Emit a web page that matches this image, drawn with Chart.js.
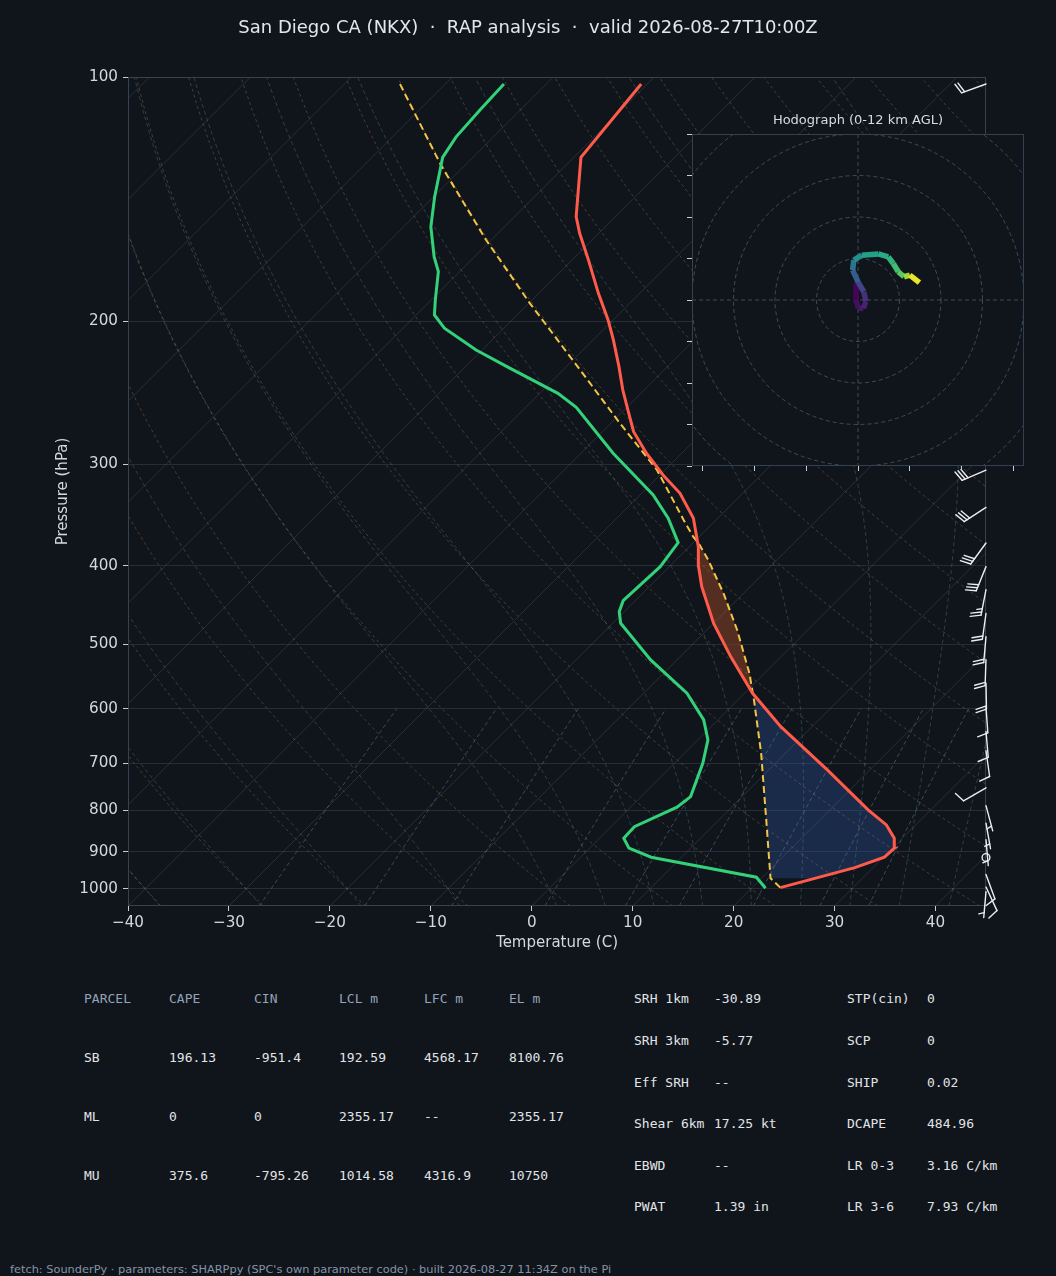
<!DOCTYPE html>
<html>
<head>
<meta charset="utf-8">
<title>Skew-T San Diego</title>
<script src="https://cdn.jsdelivr.net/npm/chart.js@4.4.1/dist/chart.umd.min.js"></script>
<style>
  html, body { margin:0; padding:0; background:#10151b; }
  body { width:1056px; height:1276px; position:relative; overflow:hidden; font-family:"DejaVu Sans", sans-serif; }
  .abs { position:absolute; white-space:pre; }
  #title { left:0; width:1056px; top:15px; text-align:center; color:#e3e7ec; font-size:18px; line-height:24px; }
  #skew { position:absolute; left:0; top:0; }
  #hodo { position:absolute; left:672px; top:100px; }
  #hodoTitle { left:692px; width:332px; top:112px; text-align:center; color:#d6dbe1; font-size:13px; line-height:16px; }
  .cell { font-family:"DejaVu Sans Mono", monospace; font-size:13px; line-height:16px; color:#e1e4e8; }
  .hdr { color:#93a3b8; }
  #footer { left:10px; top:1262px; font-size:11.35px; line-height:14px; color:#8693a5; }
</style>
</head>
<body>
<canvas id="skew" width="1056" height="960"></canvas>
<canvas id="hodo" width="372" height="380"></canvas>
<div id="title" class="abs">San Diego CA (NKX)  ·  RAP analysis  ·  valid 2026-08-27T10:00Z</div>
<div id="hodoTitle" class="abs">Hodograph (0-12 km AGL)</div>
<div id="table"></div>
<div id="footer" class="abs">fetch: SounderPy · parameters: SHARPpy (SPC's own parameter code) · built 2026-08-27 11:34Z on the Pi</div>
<script>
// ---------------- DATA ----------------
// Environmental temperature (surface -> top)
const T_P = [996.6, 941.6, 914.3, 891.2, 866.4, 834.3, 799.5, 713.8, 631.3, 574.3, 517.6, 470.9, 424.4, 400.0, 378.9, 349.6, 325.7, 309.2, 290.7, 273.5, 259.6, 243.0, 227.4, 210.8, 199.2, 184.7, 168.0, 155.8, 148.6, 125.6, 102.0];
const T_T = [22.8, 28.2, 30.1, 30.2, 29.2, 27.1, 23.8, 15.8, 6.9, 0.8, -5.0, -10.0, -14.8, -17.2, -19.1, -22.4, -26.2, -29.7, -33.5, -36.9, -39.2, -42.1, -44.8, -48.0, -50.5, -54.1, -58.4, -61.9, -63.9, -69.3, -70.6];
// Dewpoint
const TD_P = [998.4, 967.7, 914.3, 891.2, 866.4, 838.3, 793.4, 769.9, 700.4, 655.6, 619.4, 574.3, 522.5, 470.9, 455.6, 441.6, 401.0, 374.6, 349.6, 327.2, 290.7, 255.2, 245.3, 227.4, 216.9, 203.9, 196.4, 188.2, 173.7, 166.5, 152.9, 140.4, 125.6, 118.5, 109.8, 102.0];
const TD_T = [21.4, 19.4, 7.0, 3.9, 2.4, 2.3, 4.6, 4.9, 2.8, 1.0, -1.4, -5.7, -12.6, -19.2, -20.5, -21.2, -20.9, -21.5, -24.9, -28.7, -36.8, -45.0, -48.2, -55.9, -60.6, -65.9, -68.2, -69.6, -72.1, -74.0, -77.3, -79.9, -83.0, -83.7, -84.0, -84.2];
// Surface parcel path
const PCL_P = [996.6, 970.4, 822.5, 681.0, 585.3, 542.6, 479.9, 432.4, 393.5, 375.3, 368.3, 351.3, 304.8, 267.0, 229.6, 190.0, 158.8, 128.4, 102.0];
const PCL_T = [22.8, 20.9, 14.7, 7.6, 1.6, -1.5, -7.0, -12.0, -16.8, -19.4, -20.6, -23.2, -30.8, -39.1, -48.3, -59.9, -70.5, -82.4, -94.5];
// Shaded parcel-vs-environment layer (hPa)
const FILL_P = [970.4, 376.0];

// Wind barbs
const WIND_P   = [102, 130, 160, 190, 220, 250, 280, 305, 339, 375, 401, 428, 458, 489, 522, 558, 597, 640, 676, 751, 790, 830, 870, 915, 960, 995, 1008];
const WIND_DIR = [250, 250, 250, 250, 250, 250, 250, 247, 237, 216, 202, 191, 188, 185, 182, 179, 176, 175, 172, 240, 165, 170, 175, 0, 160, 155, 185];
const WIND_SPD = [20, 25, 25, 25, 25, 25, 25, 30, 30, 30, 30, 25, 20, 20, 20, 20, 10, 10, 10, 10, 5, 5, 5, 0, 10, 10, 5];

// Hodograph trace
const HODO_U = [-0.5, -0.5, 0.1, 1.3, 1.9, 1.4, 0.1, -1.3, -1.0, 0.9, 4.9, 7.3, 8.5, 9.7, 11.1, 12.5, 14.8];
const HODO_V = [3.6, 0.0, -2.0, -2.0, -0.4, 2.0, 4.2, 7.2, 9.6, 10.8, 11.1, 10.4, 8.8, 6.8, 5.6, 6.0, 4.2];
const HODO_H = [0, 0.3, 0.6, 0.9, 1.3, 2.0, 3.0, 4.0, 5.3, 6.5, 7.2, 7.5, 8.0, 8.5, 9.3, 11.3, 12.0];
const HODO_RINGS = [10, 20, 30, 40, 50];
const HODO_XTICKS = [-37.5, -25, -12.5, 0, 12.5, 25, 37.5];
const HODO_YTICKS = [-40, -30, -20, -10, 0, 10, 20, 30, 40];

// Tick labels
const P_TICKS = [100, 200, 300, 400, 500, 600, 700, 800, 900, 1000];
const T_TICKS = [-40, -30, -20, -10, 0, 10, 20, 30, 40];

// Reference lines
const ISOTHERMS = [-120, -110, -100, -90, -80, -70, -60, -50, -40, -30, -20, -10, 0, 10, 20, 30, 40, 50];
const DRY_T0 = [-40, -30, -20, -10, 0, 10, 20, 30, 40, 50, 60, 70, 80, 90, 100, 110, 120, 130, 140, 150, 160, 170, 180, 190, 200];
const MOIST_T0 = [-40, -30, -20, -10, 0, 5, 10, 15, 20, 25, 30, 35, 40, 45];
const MIX_W = [0.4, 1, 2, 4, 7, 10, 16, 24, 32]; // g/kg

// Table
const PARCEL_HEAD = ['PARCEL', 'CAPE', 'CIN', 'LCL m', 'LFC m', 'EL m'];
const PARCEL_ROWS = [
  ['SB', '196.13', '-951.4', '192.59', '4568.17', '8100.76'],
  ['ML', '0', '0', '2355.17', '--', '2355.17'],
  ['MU', '375.6', '-795.26', '1014.58', '4316.9', '10750']
];
const PARAM_A = [['SRH 1km', '-30.89'], ['SRH 3km', '-5.77'], ['Eff SRH', '--'], ['Shear 6km', '17.25 kt'], ['EBWD', '--'], ['PWAT', '1.39 in']];
const PARAM_B = [['STP(cin)', '0'], ['SCP', '0'], ['SHIP', '0.02'], ['DCAPE', '484.96'], ['LR 0-3', '3.16 C/km'], ['LR 3-6', '7.93 C/km']];

// ---------------- HELPERS ----------------
const P_BOT = 1050, P_TOP = 100, SKEW = 34.93;
const skewX = (t, p) => t + SKEW * Math.log(P_BOT / p);
const profile = (P, T) => P.map((p, i) => ({x: skewX(T[i], p), y: p}));
const RD = 287.04749, CP = 1004.666, LV = 2.50084e6, EPS = 0.6219569;

function dTdP(p, T) {
  const tc = T - 273.15;
  const es = 6.112 * Math.exp(17.67 * tc / (tc + 243.5));
  const rs = EPS * es / (p - es);
  return (RD * T + LV * rs) / (CP + (LV * LV * rs * EPS) / (RD * T * T)) / p;
}
function rk4(p, T, h) {
  const k1 = dTdP(p, T), k2 = dTdP(p + h / 2, T + h * k1 / 2), k3 = dTdP(p + h / 2, T + h * k2 / 2), k4 = dTdP(p + h, T + h * k3);
  return T + h * (k1 + 2 * k2 + 2 * k3 + k4) / 6;
}
function moistLine(t0) {
  const down = []; let T = t0 + 273.15, p = 1000;
  while (p < P_BOT) { const h = Math.min(5, P_BOT - p); T = rk4(p, T, h); p += h; down.push({p, T}); }
  const up = [{p: 1000, T: t0 + 273.15}]; T = t0 + 273.15; p = 1000;
  while (p > P_TOP) { const h = -Math.min(5, p - P_TOP); T = rk4(p, T, h); p += h; up.push({p, T}); }
  return down.reverse().concat(up).map(o => ({x: skewX(o.T - 273.15, o.p), y: o.p}));
}
function dryLine(t0) {
  const pts = [];
  for (let p = P_BOT; p >= P_TOP; p -= 10) pts.push({x: skewX((t0 + 273.15) * Math.pow(p / 1000, RD / CP) - 273.15, p), y: p});
  return pts;
}
function mixLine(wg) {
  const w = wg / 1000, pts = [];
  for (let p = P_BOT; p >= 600; p -= 10) {
    const e = p * w / (EPS + w), l = Math.log(e / 6.112);
    pts.push({x: skewX(243.5 * l / (17.67 - l), p), y: p});
  }
  return pts;
}
function interpT(P, T, p) {
  for (let i = 0; i < P.length - 1; i++) {
    if ((P[i] - p) * (P[i + 1] - p) <= 0) {
      const f = (Math.log(p) - Math.log(P[i])) / (Math.log(P[i + 1]) - Math.log(P[i]));
      return T[i] + (T[i + 1] - T[i]) * f;
    }
  }
  return p > P[0] ? T[0] : T[T.length - 1];
}
const fmtT = v => (v < 0 ? '\u2212' + Math.abs(v) : String(v));

const VIRIDIS = ['#440154', '#482878', '#3e4989', '#31688e', '#26828e', '#1f9e89', '#35b779', '#6ece58', '#b5de2b', '#fde725'];
function hexRgb(h) { return [parseInt(h.slice(1, 3), 16), parseInt(h.slice(3, 5), 16), parseInt(h.slice(5, 7), 16)]; }
function viridis(t) {
  t = Math.max(0, Math.min(1, t)); const f = t * 9, i = Math.min(8, Math.floor(f)), k = f - i;
  const a = hexRgb(VIRIDIS[i]), b = hexRgb(VIRIDIS[i + 1]);
  return 'rgb(' + a.map((v, j) => Math.round(v + (b[j] - v) * k)).join(',') + ')';
}

// ---------------- SKEW-T CHART ----------------
const bg = (data, color, dash) => ({data, borderColor: color, borderWidth: 1, borderDash: dash, pointRadius: 0, fill: false, tension: 0, order: 10});
const datasets = [];
datasets.push({data: profile(T_P, T_T), borderColor: '#ff5b4b', borderWidth: 3, pointRadius: 0, fill: false, order: 0});
datasets.push({data: profile(TD_P, TD_T), borderColor: '#33d17a', borderWidth: 3, pointRadius: 0, fill: false, order: 1});
datasets.push({data: profile(PCL_P, PCL_T), borderColor: '#f4c542', borderWidth: 2, borderDash: [7, 4], pointRadius: 0, fill: false, order: 2});
ISOTHERMS.forEach(t => datasets.push(bg([{x: skewX(t, P_BOT), y: P_BOT}, {x: skewX(t, P_TOP), y: P_TOP}], 'rgba(140,152,170,0.2)', [])));
DRY_T0.forEach(t => datasets.push(bg(dryLine(t), 'rgba(170,125,75,0.38)', [3, 3])));
MOIST_T0.forEach(t => datasets.push(bg(moistLine(t), 'rgba(80,125,140,0.42)', [4, 3])));
MIX_W.forEach(w => datasets.push(bg(mixLine(w), 'rgba(100,130,160,0.5)', [4, 3])));

const fillPlugin = {
  id: 'parcelFill',
  beforeDatasetsDraw(chart) {
    const {ctx, chartArea: a, scales: {x, y}} = chart;
    const n = 240, l0 = Math.log(FILL_P[0]), l1 = Math.log(FILL_P[1]);
    const grid = [];
    for (let i = 0; i <= n; i++) { const p = Math.exp(l0 + (l1 - l0) * i / n); grid.push({p, tp: interpT(PCL_P, PCL_T, p), te: interpT(T_P, T_T, p)}); }
    const regions = []; let cur = null;
    for (let i = 0; i < grid.length; i++) {
      const g = grid[i], d = g.tp - g.te, s = d >= 0 ? 1 : -1;
      if (!cur) { cur = {s, pts: [g]}; continue; }
      if (s !== cur.s) {
        const pr = grid[i - 1], d0 = pr.tp - pr.te, f = d0 / (d0 - d);
        const pc = Math.exp(Math.log(pr.p) + (Math.log(g.p) - Math.log(pr.p)) * f);
        const tc = pr.tp + (g.tp - pr.tp) * f;
        const c = {p: pc, tp: tc, te: tc};
        cur.pts.push(c); regions.push(cur); cur = {s, pts: [c, g]};
      } else cur.pts.push(g);
    }
    if (cur) regions.push(cur);
    ctx.save();
    ctx.beginPath(); ctx.rect(a.left, a.top, a.right - a.left, a.bottom - a.top); ctx.clip();
    regions.forEach(r => {
      ctx.beginPath();
      r.pts.forEach((g, i) => { const px = x.getPixelForValue(skewX(g.tp, g.p)), py = y.getPixelForValue(g.p); i ? ctx.lineTo(px, py) : ctx.moveTo(px, py); });
      for (let i = r.pts.length - 1; i >= 0; i--) { const g = r.pts[i]; ctx.lineTo(x.getPixelForValue(skewX(g.te, g.p)), y.getPixelForValue(g.p)); }
      ctx.closePath();
      ctx.fillStyle = r.s > 0 ? 'rgba(150,72,40,0.5)' : 'rgba(50,90,170,0.32)';
      ctx.fill();
    });
    ctx.restore();
  }
};

function drawBarb(ctx, bx, by, dir, spd) {
  const L = 26;
  const r = Math.round(spd / 5) * 5;
  if (r < 5) { ctx.beginPath(); ctx.arc(bx, by, 0.15 * L, 0, 2 * Math.PI); ctx.stroke(); return; }
  const ang = dir * Math.PI / 180, dx = Math.sin(ang), dy = -Math.cos(ang), px = -dy, py = dx;
  const H = 0.4 * L, W = 0.25 * L, S = 0.125 * L;
  const flags = Math.floor(r / 50), full = Math.floor((r % 50) / 10), half = (r % 10) >= 5;
  ctx.beginPath(); ctx.moveTo(bx, by); ctx.lineTo(bx + dx * L, by + dy * L); ctx.stroke();
  let off = L;
  for (let i = 0; i < flags; i++) {
    const sx = bx + dx * off, sy = by + dy * off;
    ctx.beginPath(); ctx.moveTo(sx, sy); ctx.lineTo(sx + px * H - dx * W / 2, sy + py * H - dy * W / 2); ctx.lineTo(sx - dx * W, sy - dy * W); ctx.closePath(); ctx.fill();
    off -= W + S;
  }
  for (let i = 0; i < full; i++) {
    const sx = bx + dx * off, sy = by + dy * off;
    ctx.beginPath(); ctx.moveTo(sx, sy); ctx.lineTo(sx + px * H + dx * W / 2, sy + py * H + dy * W / 2); ctx.stroke();
    off -= S;
  }
  if (half) {
    if (off === L) off -= 1.5 * S;
    const sx = bx + dx * off, sy = by + dy * off;
    ctx.beginPath(); ctx.moveTo(sx, sy); ctx.lineTo(sx + px * H / 2 + dx * W / 4, sy + py * H / 2 + dy * W / 4); ctx.stroke();
  }
}

const overlayPlugin = {
  id: 'frameBarbs',
  afterDatasetsDraw(chart) {
    const {ctx, chartArea: a, scales: {y}} = chart;
    ctx.save();
    ctx.strokeStyle = '#374250'; ctx.lineWidth = 1;
    ctx.strokeRect(a.left + 0.5, a.top + 0.5, a.right - a.left - 1, a.bottom - a.top - 1);
    ctx.strokeStyle = '#e9edf1'; ctx.fillStyle = '#e9edf1'; ctx.lineWidth = 1.4; ctx.lineCap = 'round';
    WIND_P.forEach((p, i) => drawBarb(ctx, a.right, y.getPixelForValue(p), WIND_DIR[i], WIND_SPD[i]));
    ctx.restore();
  }
};

Chart.defaults.font.family = '"DejaVu Sans", sans-serif';
Chart.defaults.color = '#d3d8de';

new Chart(document.getElementById('skew'), {
  type: 'line',
  data: {datasets},
  options: {
    responsive: false, animation: false, devicePixelRatio: 1, events: [],
    layout: {padding: {top: 77, right: 70, bottom: 0, left: 0}},
    elements: {point: {radius: 0}},
    plugins: {legend: {display: false}, tooltip: {enabled: false}},
    scales: {
      x: {
        type: 'linear', min: -40, max: 45,
        afterBuildTicks: s => { s.ticks = T_TICKS.map(v => ({value: v})); },
        afterFit: s => { s.height = 54; },
        grid: {drawOnChartArea: false, drawTicks: true, tickLength: 5, tickColor: '#c9ced5'},
        border: {display: false},
        ticks: {color: '#d3d8de', font: {size: 15.2}, padding: 3, maxRotation: 0, autoSkip: false, callback: v => fmtT(v)},
        title: {display: true, text: 'Temperature (C)', color: '#d3d8de', font: {size: 15}, padding: {top: 0, bottom: 8}}
      },
      y: {
        type: 'logarithmic', min: 100, max: 1050, reverse: true,
        afterBuildTicks: s => { s.ticks = P_TICKS.map(v => ({value: v})); },
        afterFit: s => { s.width = 128; },
        grid: {color: 'rgba(130,145,165,0.2)', lineWidth: 1, drawTicks: true, tickLength: 5, tickColor: '#c9ced5'},
        border: {display: false},
        ticks: {color: '#d3d8de', font: {size: 15.2}, padding: 5, autoSkip: false, callback: v => String(v)},
        title: {display: true, text: 'Pressure (hPa)', color: '#d3d8de', font: {size: 15}, padding: {top: 54, bottom: 0}}
      }
    }
  },
  plugins: [fillPlugin, overlayPlugin]
});

// ---------------- HODOGRAPH ----------------
const hodoPlugin = {
  id: 'hodoDeco',
  beforeDraw(chart) {
    const {ctx, chartArea: a} = chart;
    ctx.save(); ctx.fillStyle = '#10151b'; ctx.fillRect(a.left, a.top, a.right - a.left, a.bottom - a.top); ctx.restore();
  },
  beforeDatasetsDraw(chart) {
    const {ctx, chartArea: a, scales: {x, y}} = chart;
    const cx = x.getPixelForValue(0), cy = y.getPixelForValue(0);
    ctx.save();
    ctx.beginPath(); ctx.rect(a.left, a.top, a.right - a.left, a.bottom - a.top); ctx.clip();
    ctx.strokeStyle = 'rgba(120,138,160,0.45)'; ctx.lineWidth = 1; ctx.setLineDash([4, 3]);
    HODO_RINGS.forEach(r => {
      ctx.beginPath(); ctx.ellipse(cx, cy, x.getPixelForValue(r) - cx, cy - y.getPixelForValue(r), 0, 0, 2 * Math.PI); ctx.stroke();
    });
    ctx.beginPath(); ctx.moveTo(a.left, cy); ctx.lineTo(a.right, cy); ctx.moveTo(cx, a.top); ctx.lineTo(cx, a.bottom); ctx.stroke();
    ctx.restore();
  },
  afterDraw(chart) {
    const {ctx, chartArea: a} = chart;
    ctx.save(); ctx.strokeStyle = '#33404f'; ctx.lineWidth = 1;
    ctx.strokeRect(a.left + 0.5, a.top + 0.5, a.right - a.left - 1, a.bottom - a.top - 1); ctx.restore();
  }
};

new Chart(document.getElementById('hodo'), {
  type: 'line',
  data: {datasets: [{
    data: HODO_U.map((u, i) => ({x: u, y: HODO_V[i]})),
    borderWidth: 5.5, pointRadius: 0, fill: false, borderCapStyle: 'butt', borderJoinStyle: 'round',
    borderColor: '#21918c',
    segment: {borderColor: c => viridis((HODO_H[c.p0DataIndex] + HODO_H[c.p1DataIndex]) / 2 / 12)}
  }]},
  options: {
    responsive: false, animation: false, devicePixelRatio: 1, events: [],
    layout: {padding: {top: 34, right: 20, bottom: 0, left: 0}},
    plugins: {legend: {display: false}, tooltip: {enabled: false}},
    scales: {
      x: {type: 'linear', min: -40, max: 40,
        afterBuildTicks: s => { s.ticks = HODO_XTICKS.map(v => ({value: v})); },
        afterFit: s => { s.height = 14; },
        grid: {drawOnChartArea: false, drawTicks: true, tickLength: 5, tickColor: '#c9ced5'},
        border: {display: false}, ticks: {display: false}},
      y: {type: 'linear', min: -40, max: 40,
        afterBuildTicks: s => { s.ticks = HODO_YTICKS.map(v => ({value: v})); },
        afterFit: s => { s.width = 20; },
        grid: {drawOnChartArea: false, drawTicks: true, tickLength: 5, tickColor: '#c9ced5'},
        border: {display: false}, ticks: {display: false}}
    }
  },
  plugins: [hodoPlugin]
});

// ---------------- TABLE ----------------
const tbl = document.getElementById('table');
function cell(text, x, yc, cls) {
  const d = document.createElement('div');
  d.className = 'abs cell' + (cls ? ' ' + cls : '');
  d.style.left = x + 'px'; d.style.top = (yc - 8) + 'px';
  d.textContent = text; tbl.appendChild(d);
}
const COLX = [84, 169, 254, 339, 424, 509];
const ROWY = [999, 1058, 1117, 1176];
PARCEL_HEAD.forEach((t, j) => cell(t, COLX[j], ROWY[0], 'hdr'));
PARCEL_ROWS.forEach((r, i) => r.forEach((t, j) => cell(t, COLX[j], ROWY[i + 1])));
const PROWY = [999, 1041, 1083, 1124, 1166, 1207];
PARAM_A.forEach((r, i) => { cell(r[0], 634, PROWY[i]); cell(r[1], 714, PROWY[i]); });
PARAM_B.forEach((r, i) => { cell(r[0], 847, PROWY[i]); cell(r[1], 927, PROWY[i]); });
</script>
</body>
</html>
